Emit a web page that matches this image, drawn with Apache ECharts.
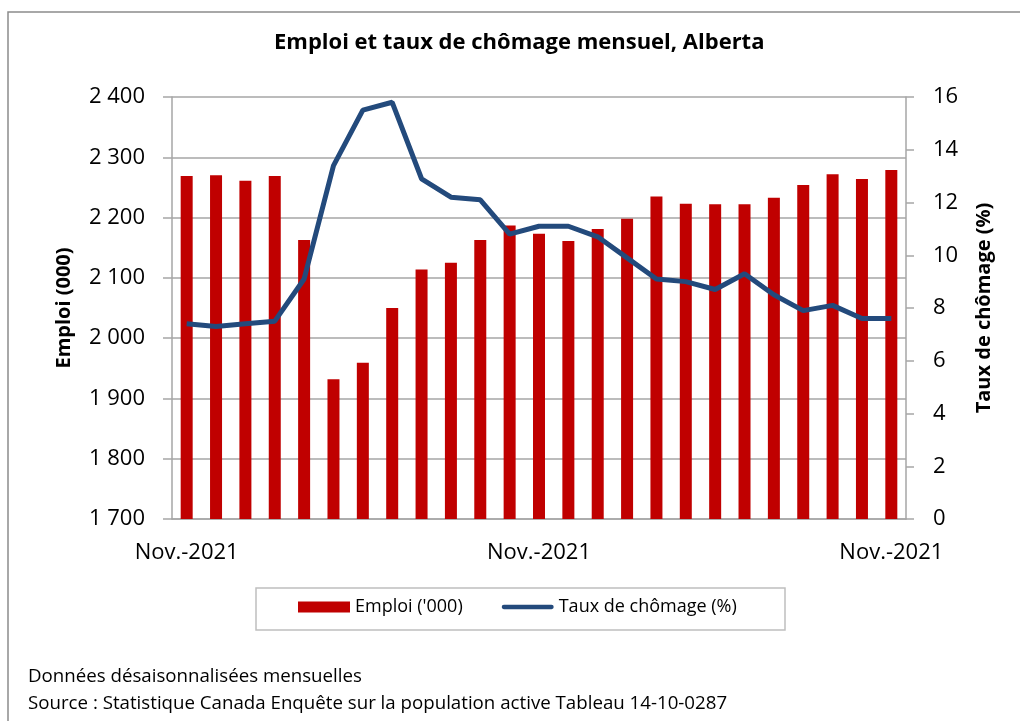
<!DOCTYPE html>
<html>
<head>
<meta charset="utf-8">
<script src="https://cdn.jsdelivr.net/npm/echarts@6/dist/echarts.min.js"></script>
<style>
  html, body { margin: 0; padding: 0; background: #fff; }
</style>
</head>
<body>
<div id="main" style="width: 1020px;height:721px;"></div>
<script type="text/javascript">
    // mois : nov. 2019 a nov. 2021
    var categories = ['Nov.-2019', 'Déc.-2019', 'Janv.-2020', 'Févr.-2020', 'Mars-2020', 'Avr.-2020',
        'Mai-2020', 'Juin-2020', 'Juil.-2020', 'Août-2020', 'Sept.-2020', 'Oct.-2020', 'Nov.-2020',
        'Déc.-2020', 'Janv.-2021', 'Févr.-2021', 'Mars-2021', 'Avr.-2021', 'Mai-2021', 'Juin-2021',
        'Juil.-2021', 'Août-2021', 'Sept.-2021', 'Oct.-2021', 'Nov.-2021'];
    // etiquette affichee sous l'axe (une sur douze)
    var xTickLabel = 'Nov.-2021';
    var emploi = [2269, 2270, 2261, 2269, 2163, 1932, 1959, 2050, 2114, 2125, 2163, 2187, 2173,
        2161, 2181, 2198, 2235, 2223, 2222, 2222, 2233, 2254, 2272, 2264, 2279];
    var chomage = [7.4, 7.3, 7.4, 7.5, 9.1, 13.4, 15.5, 15.8, 12.9, 12.2, 12.1, 10.8, 11.1,
        11.1, 10.7, 9.9, 9.1, 9.0, 8.7, 9.3, 8.5, 7.9, 8.1, 7.6, 7.6];

    var font = '"Open Sans", "Noto Sans", sans-serif';
    var gris = '#a6a6a6';
    var bleu = '#234a7c';

    var myChart = echarts.init(document.getElementById('main'));
    var option = {
        animation: false,
        backgroundColor: '#fff',
        textStyle: { fontFamily: font, color: '#000' },
        title: {
            text: 'Emploi et taux de chômage mensuel, Alberta',
            left: 274,
            top: 32,
            padding: 0,
            textStyle: { fontFamily: font, fontSize: 22, fontWeight: 'bold', color: '#000' }
        },
        graphic: [
            // cadre exterieur
            { type: 'rect', shape: { x: 8, y: 12, width: 1100, height: 800 },
              style: { fill: 'none', stroke: '#8c8c8c', lineWidth: 1.5 } },
            // boite de la legende
            { type: 'rect', shape: { x: 256, y: 588, width: 529, height: 42 },
              style: { fill: 'none', stroke: '#bfbfbf', lineWidth: 1.5 } },
            { type: 'text', x: 28, y: 677,
              style: { text: 'Données désaisonnalisées mensuelles', font: '18.7px ' + font,
                       fill: '#000', verticalAlign: 'middle' } },
            { type: 'text', x: 28, y: 704,
              style: { text: 'Source : Statistique Canada Enquête sur la population active Tableau 14-10-0287',
                       font: '18.7px ' + font, fill: '#000', verticalAlign: 'middle' } }
        ],
        legend: {
            left: 298,
            top: 598,
            padding: 0,
            itemWidth: 52,
            itemHeight: 11,
            itemGap: 39,
            textStyle: { fontFamily: font, fontSize: 18, color: '#000' },
            data: [
                { name: "Emploi ('000)", icon: 'rect' },
                { name: 'Taux de chômage (%)',
                  icon: 'path://M2.5,0 H57.5 A2.5,2.5 0 0 1 57.5,5 H2.5 A2.5,2.5 0 0 1 2.5,0 Z' }
            ]
        },
        grid: { left: 172, right: 114, top: 97, bottom: 202 },
        xAxis: {
            type: 'category',
            data: categories,
            boundaryGap: true,
            axisLine: { lineStyle: { color: gris, width: 1.5 } },
            axisTick: { interval: 0, length: 8, lineStyle: { color: gris, width: 1.5 } },
            axisLabel: {
                interval: 11,
                margin: 23,
                fontSize: 22,
                color: '#000',
                formatter: function (v, i) { return xTickLabel; }
            }
        },
        yAxis: [{
            type: 'value',
            min: 1700,
            max: 2400,
            interval: 100,
            name: 'Emploi (000)',
            nameLocation: 'middle',
            nameGap: 98,
            nameTextStyle: { fontSize: 20, fontWeight: 'bold', color: '#000' },
            axisLine: { show: true, lineStyle: { color: gris, width: 1.5 } },
            axisTick: { show: true, length: 9, lineStyle: { color: gris, width: 1.5 } },
            axisLabel: {
                margin: 27,
                fontSize: 22,
                color: '#000',
                formatter: function (v) { return String(v).replace(/\B(?=(\d{3})+(?!\d))/g, ' '); }
            },
            splitLine: { lineStyle: { color: gris, width: 1.5 } }
        }, {
            type: 'value',
            min: 0,
            max: 16,
            interval: 2,
            name: 'Taux de chômage (%)',
            nameLocation: 'middle',
            nameGap: 68,
            nameTextStyle: { fontSize: 20, fontWeight: 'bold', color: '#000' },
            axisLine: { show: true, lineStyle: { color: gris, width: 1.5 } },
            axisTick: { show: true, length: 8, lineStyle: { color: gris, width: 1.5 } },
            axisLabel: { margin: 27, fontSize: 22, color: '#000' },
            splitLine: { show: false }
        }],
        series: [{
            name: "Emploi ('000)",
            type: 'bar',
            yAxisIndex: 0,
            barWidth: 12,
            itemStyle: { color: '#c00000' },
            data: emploi
        }, {
            name: 'Taux de chômage (%)',
            type: 'line',
            yAxisIndex: 1,
            symbol: 'none',
            lineStyle: { color: bleu, width: 5 },
            itemStyle: { color: bleu },
            data: chomage
        }]
    };
    myChart.setOption(option);
</script>
</body>
</html>
